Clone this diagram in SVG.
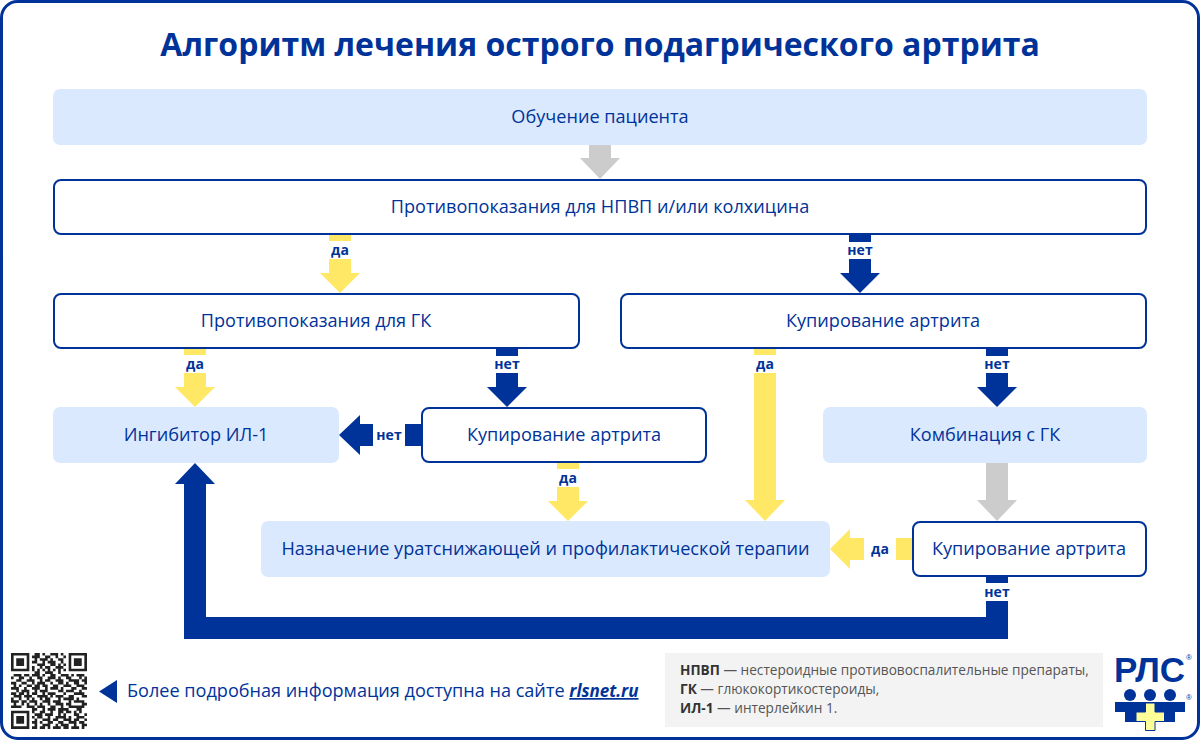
<svg xmlns="http://www.w3.org/2000/svg" width="1200" height="740" viewBox="0 0 1200 740">
<style>
text{font-family:"Open Sans","Noto Sans",sans-serif;fill:#003399}
.t{font-size:18.130px;text-anchor:middle}
.l{font-size:14px;font-weight:700;text-anchor:middle}
.n{fill:#fff;stroke:#003399;stroke-width:2}
.f{fill:#dbe9ff}
.y{fill:#ffe866}.b{fill:#003399}.g{fill:#cccccc}
.s{font-size:13.630px;fill:#555}.s tspan{font-weight:700;fill:#333}
</style>
<rect x="1.500" y="1.500" width="1197" height="737" rx="16" fill="#fff" stroke="#003399" stroke-width="3"/>
<text id="title" x="600" y="56" font-size="32" font-weight="700" text-anchor="middle">Алгоритм лечения острого подагрического артрита</text>
<g id="connectors">
<path class="g" d="M589 145h22v13h9l-20 21-20-21h9z"/>
<path class="y" d="M329 235h22v6h-22zM329 259h22v14h9l-20 20-20-20h9z"/>
<path class="b" d="M849 235h22v7h-22zM849 259h22v14h9l-20 20-20-20h9z"/>
<path class="y" d="M184 349h22v6h-22zM184 373h22v14h9l-20 20-20-20h9z"/>
<path class="b" d="M496 349h22v7h-22zM496 373h22v14h9l-20 20-20-20h9z"/>
<path class="y" d="M754 349h22v6h-22zM754 373h22v127h9l-20 21-20-21h9z"/>
<path class="b" d="M986 349h22v7h-22zM986 373h22v14h9l-20 20-20-20h9z"/>
<path class="b" d="M422 424v22h-17v-22zM373 424v22h-13v9l-21-20 21-20v9z"/>
<path class="y" d="M557 463h22v6h-22zM557 487h22v14h9l-20 20-20-20h9z"/>
<path class="g" d="M986 463h22v37h9l-20 21-20-21h9z"/>
<path class="y" d="M913 538v22h-17v-22zM864 538v22h-14v9l-20-20 20-20v9z"/>
<path class="b" d="M986 577h22v6h-22zM986 601h22v38H184V484h-9l20-21 20 21h-9v133H986z"/>
</g>
<g id="n1"><rect class="f" x="53" y="89" width="1094" height="56" rx="7"/><text class="t" x="600" y="123">Обучение пациента</text></g>
<g id="n2"><rect class="n" x="54" y="180" width="1092" height="54" rx="7"/><text class="t" x="600" y="213">Противопоказания для НПВП и/или колхицина</text></g>
<g id="n3"><rect class="n" x="54" y="294" width="525" height="54" rx="7"/><text class="t" x="316" y="327">Противопоказания для ГК</text></g>
<g id="n4"><rect class="n" x="621" y="294" width="525" height="54" rx="7"/><text class="t" x="883" y="327">Купирование артрита</text></g>
<g id="n5"><rect class="f" x="53" y="407" width="286" height="56" rx="7"/><text class="t" x="196" y="441">Ингибитор ИЛ-1</text></g>
<g id="n6"><rect class="n" x="422" y="408" width="284" height="54" rx="7"/><text class="t" x="564" y="441">Купирование артрита</text></g>
<g id="n7"><rect class="f" x="823" y="407" width="324" height="56" rx="7"/><text class="t" x="985" y="441">Комбинация с ГК</text></g>
<g id="n8"><rect class="f" x="261" y="521" width="569" height="56" rx="7"/><text class="t" x="545.500" y="555">Назначение уратснижающей и профилактической терапии</text></g>
<g id="n9"><rect class="n" x="913" y="522" width="233" height="54" rx="7"/><text class="t" x="1029" y="555">Купирование артрита</text></g>
<g id="labels">
<text class="l" x="340" y="255">да</text><text class="l" x="860" y="255">нет</text>
<text class="l" x="195" y="369">да</text><text class="l" x="507" y="369">нет</text>
<text class="l" x="765" y="369">да</text><text class="l" x="997" y="369">нет</text>
<text class="l" x="389" y="440">нет</text><text class="l" x="568" y="483">да</text>
<text class="l" x="880" y="554">да</text><text class="l" x="997" y="597">нет</text>
</g>
<g id="qr"><path transform="translate(11 653) scale(2.62)" fill="none" stroke="#222" stroke-width="1" d="M0 .5h7M9 .5h2M12 .5h1M15 .5h3M19 .5h1M22 .5h7M0 1.500h1M6 1.500h1M8 1.500h3M13 1.500h2M17 1.500h1M20 1.500h1M22 1.500h1M28 1.500h1M0 2.500h1M2 2.500h3M6 2.500h1M9 2.500h1M11 2.500h3M15 2.500h1M18 2.500h2M22 2.500h1M24 2.500h3M28 2.500h1M0 3.500h1M2 3.500h3M6 3.500h1M8 3.500h2M12 3.500h1M14 3.500h3M19 3.500h1M22 3.500h1M24 3.500h3M28 3.500h1M0 4.500h1M2 4.500h3M6 4.500h1M10 4.500h3M15 4.500h2M18 4.500h1M20 4.500h1M22 4.500h1M24 4.500h3M28 4.500h1M0 5.500h1M6 5.500h1M8 5.500h1M11 5.500h1M13 5.500h2M17 5.500h3M22 5.500h1M28 5.500h1M0 6.500h7M8 6.500h1M10 6.500h1M12 6.500h1M14 6.500h1M16 6.500h1M18 6.500h1M20 6.500h1M22 6.500h7M9 7.500h2M13 7.500h3M18 7.500h1M1 8.500h3M5 8.500h2M8 8.500h3M12 8.500h1M15 8.500h2M19 8.500h3M23 8.500h1M25 8.500h3M0 9.500h1M3 9.500h2M7 9.500h1M10 9.500h2M14 9.500h3M18 9.500h1M21 9.500h2M26 9.500h1M28 9.500h1M2 10.500h2M6 10.500h3M11 10.500h1M13 10.500h2M17 10.500h3M22 10.500h4M27 10.500h2M0 11.500h2M4 11.500h2M8 11.500h1M10 11.500h3M15 11.500h1M18 11.500h2M21 11.500h1M24 11.500h2M28 11.500h1M1 12.500h1M3 12.500h1M6 12.500h2M9 12.500h2M12 12.500h2M16 12.500h2M20 12.500h3M25 12.500h3M0 13.500h3M5 13.500h1M8 13.500h3M13 13.500h1M15 13.500h3M19 13.500h1M23 13.500h2M27 13.500h2M2 14.500h1M4 14.500h3M9 14.500h1M11 14.500h3M18 14.500h2M21 14.500h3M26 14.500h1M0 15.500h2M3 15.500h2M6 15.500h1M8 15.500h2M12 15.500h1M14 15.500h3M20 15.500h1M24 15.500h4M1 16.500h3M5 16.500h3M10 16.500h4M15 16.500h1M17 16.500h3M22 16.500h2M27 16.500h2M0 17.500h1M3 17.500h1M6 17.500h1M8 17.500h1M11 17.500h1M13 17.500h2M18 17.500h1M20 17.500h4M25 17.500h1M0 18.500h3M4 18.500h2M7 18.500h3M12 18.500h3M16 18.500h3M22 18.500h1M24 18.500h4M1 19.500h1M4 19.500h1M6 19.500h1M9 19.500h1M11 19.500h1M14 19.500h1M17 19.500h3M21 19.500h2M27 19.500h2M0 20.500h4M6 20.500h3M10 20.500h3M15 20.500h2M19 20.500h1M22 20.500h6M8 21.500h2M12 21.500h1M14 21.500h3M18 21.500h3M21 21.500h1M25 21.500h2M0 22.500h7M8 22.500h1M11 22.500h2M15 22.500h1M18 22.500h2M21 22.500h2M24 22.500h1M26 22.500h1M0 23.500h1M6 23.500h1M9 23.500h3M13 23.500h3M18 23.500h1M20 23.500h1M24 23.500h2M28 23.500h1M0 24.500h1M2 24.500h3M6 24.500h1M8 24.500h1M10 24.500h2M14 24.500h1M17 24.500h4M22 24.500h1M25 24.500h3M0 25.500h1M2 25.500h3M6 25.500h1M9 25.500h1M12 25.500h3M16 25.500h2M20 25.500h3M24 25.500h2M28 25.500h1M0 26.500h1M2 26.500h3M6 26.500h1M8 26.500h2M11 26.500h1M14 26.500h2M18 26.500h2M22 26.500h3M26 26.500h2M0 27.500h1M6 27.500h1M9 27.500h1M12 27.500h3M17 27.500h1M19 27.500h3M24 27.500h1M27 27.500h2M0 28.500h7M8 28.500h2M11 28.500h2M14 28.500h1M16 28.500h3M20 28.500h2M23 28.500h3M27 28.500h1"/></g>
<g id="link">
<path class="b" d="M117 680v23l-18-11.500z"/>
<text x="127" y="697" font-size="18.100">Более подробная информация доступна на сайте <tspan font-weight="700" font-style="italic" font-size="17" text-decoration="underline">rlsnet.ru</tspan></text>
</g>
<g id="legend">
<rect x="665" y="653" width="438" height="74" fill="#f3f3f3"/>
<text class="s" x="680" y="675"><tspan>НПВП</tspan> — нестероидные противовоспалительные препараты,</text>
<text class="s" x="680" y="694"><tspan>ГК</tspan> — глюкокортикостероиды,</text>
<text class="s" x="680" y="713"><tspan>ИЛ-1</tspan> — интерлейкин 1.</text>
</g>
<g id="logo">
<text x="1114" y="682" font-size="35" font-weight="700" style="font-family:'Liberation Sans',sans-serif">РЛС</text>
<text x="1186" y="660" font-size="8" style="font-family:'Liberation Sans',sans-serif">®</text>
<text x="1186" y="700" font-size="8" style="font-family:'Liberation Sans',sans-serif">®</text>
<circle class="b" cx="1130" cy="695" r="6"/><circle class="b" cx="1150" cy="695" r="6"/><circle class="b" cx="1170" cy="695" r="6"/>
<path class="b" d="M1115 702h70v10h-10v10h-50v-10h-10z"/>
<path d="M1145.500 703h9.500v9h9.500v9.500h-9.500v9h-9.500v-9h-9.500v-9.500h9.500z" fill="#ffff99" stroke="#003399"/>
</g>
</svg>
